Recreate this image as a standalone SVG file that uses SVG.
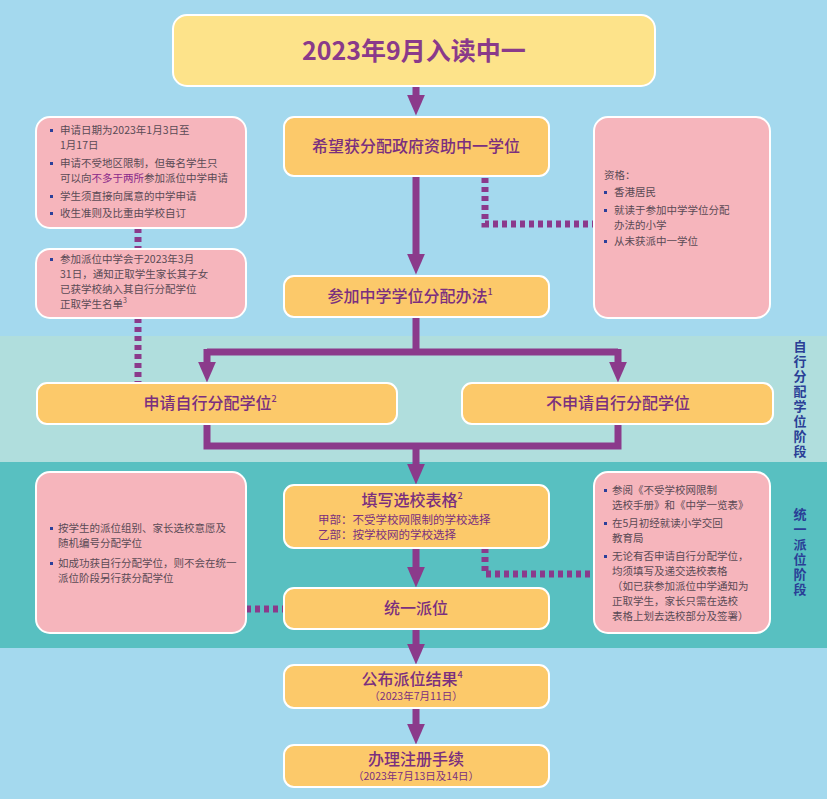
<svg xmlns="http://www.w3.org/2000/svg" width="827" height="799" viewBox="0 0 827 799">
<defs>
<style>
.t{font-family:"Noto Sans CJK SC","Liberation Sans",sans-serif;}
.o{fill:#fcc96a;stroke:#fff;stroke-width:2;}
.p{fill:#f6b5bc;stroke:#fff;stroke-width:2;}
.bt{font-size:16px;fill:#7a2f7f;font-weight:500;text-anchor:middle;}
.st{font-size:10.5px;fill:#7a2f7f;text-anchor:middle;}
.s{font-size:10.5px;fill:#5a4a55;}
.b{fill:#2b3f9a;}
.ln{stroke:#8b3a8b;stroke-width:7;fill:none;}
.dt{stroke:#8b3a8b;stroke-width:7;fill:none;stroke-dasharray:5 4;}
.side{font-size:13px;fill:#2a3f96;font-weight:bold;writing-mode:vertical-rl;letter-spacing:2px;}
</style>
<marker id="a" markerWidth="3" markerHeight="3" refX="1.5" refY="1.5" orient="auto" markerUnits="strokeWidth"><path d="M0,0.2 L3,1.5 L0,2.8 Z" fill="#8b3a8b"/></marker>
</defs>
<rect width="827" height="799" fill="#a4d9ee"/>
<rect y="336" width="827" height="126" fill="#b0dedd"/>
<rect y="462" width="827" height="186" fill="#58c0c1"/>

<g id="connectors">
<path class="dt" d="M485,178 V224 H594"/>
<path class="dt" d="M138,228 V249"/>
<path class="dt" d="M138,318 V383"/>
<path class="dt" d="M246,609 H284"/>
<path class="dt" d="M485,548 V574 H594"/>
<path class="ln" d="M416,86 V105" marker-end="url(#a)"/>
<path class="ln" d="M416,176 V264" marker-end="url(#a)"/>
<path class="ln" d="M416,317 V352"/>
<path class="ln" d="M207,352 H618"/>
<path class="ln" d="M207,349 V372" marker-end="url(#a)"/>
<path class="ln" d="M618,349 V372" marker-end="url(#a)"/>
<path class="ln" d="M207,424 V446 H618 V424"/>
<path class="ln" d="M416,446 V474" marker-end="url(#a)"/>
<path class="ln" d="M416,548 V577" marker-end="url(#a)"/>
<path class="ln" d="M416,629 V654" marker-end="url(#a)"/>
<path class="ln" d="M416,708 V734" marker-end="url(#a)"/>
</g>

<g id="title"><rect x="173" y="15" width="482" height="71" rx="14" fill="#fde38a" stroke="#fff" stroke-width="2"/>
<text class="t" x="414" y="60" font-size="25" font-weight="bold" fill="#8a3a8a" text-anchor="middle">2023年9月入读中一</text></g>

<g id="n1"><rect class="o" x="284" y="117" width="265" height="59" rx="10"/><text class="t bt" x="416" y="152">希望获分配政府资助中一学位</text></g>
<g id="n2"><rect class="o" x="284" y="276" width="265" height="41" rx="10"/><text class="t bt" x="410" y="302">参加中学学位分配办法<tspan font-size="9" dy="-7">1</tspan></text></g>
<g id="n3"><rect class="o" x="37" y="383" width="360" height="41" rx="10"/><text class="t bt" x="210" y="409">申请自行分配学位<tspan font-size="9" dy="-7">2</tspan></text></g>
<g id="n4"><rect class="o" x="462" y="383" width="311" height="41" rx="10"/><text class="t bt" x="618" y="409">不申请自行分配学位</text></g>
<g id="n5"><rect class="o" x="284" y="485" width="265" height="63" rx="10"/><text class="t bt" x="412" y="506">填写选校表格<tspan font-size="9" dy="-7">2</tspan></text>
<text class="t" x="318" y="524" font-size="11.5" fill="#7a2f7f">甲部：不受学校网限制的学校选择</text>
<text class="t" x="318" y="539" font-size="11.5" fill="#7a2f7f">乙部：按学校网的学校选择</text></g>
<g id="n6"><rect class="o" x="284" y="588" width="265" height="41" rx="10"/><text class="t bt" x="416" y="614">统一派位</text></g>
<g id="n7"><rect class="o" x="284" y="665" width="265" height="43" rx="10"/><text class="t bt" x="412" y="685">公布派位结果<tspan font-size="9" dy="-7">4</tspan></text><text class="t st" x="416" y="700">（2023年7月11日）</text></g>
<g id="n8"><rect class="o" x="284" y="745" width="265" height="42" rx="10"/><text class="t bt" x="416" y="765">办理注册手续</text><text class="t st" x="416" y="780">（2023年7月13日及14日）</text></g>

<g id="pl1"><rect class="p" x="36" y="117" width="210" height="111" rx="14"/>
<rect class="b" x="50" y="129" width="3" height="3"/><text class="t s" x="60" y="134">申请日期为2023年1月3日至</text><text class="t s" x="60" y="149">1月17日</text>
<rect class="b" x="50" y="162" width="3" height="3"/><text class="t s" x="60" y="167">申请不受地区限制，但每名学生只</text><text class="t s" x="60" y="182">可以向<tspan fill="#8a2a8a">不多于两所</tspan>参加派位中学申请</text>
<rect class="b" x="50" y="195" width="3" height="3"/><text class="t s" x="60" y="200">学生须直接向属意的中学申请</text>
<rect class="b" x="50" y="212" width="3" height="3"/><text class="t s" x="60" y="217">收生准则及比重由学校自订</text></g>
<g id="pl2"><rect class="p" x="36" y="249" width="210" height="69" rx="14"/>
<rect class="b" x="50" y="258" width="3" height="3"/><text class="t s" x="60" y="263">参加派位中学会于2023年3月</text><text class="t s" x="60" y="278">31日，通知正取学生家长其子女</text><text class="t s" x="60" y="293">已获学校纳入其自行分配学位</text><text class="t s" x="60" y="308">正取学生名单<tspan font-size="7" dy="-5">3</tspan></text></g>
<g id="pr1"><rect class="p" x="594" y="117" width="176" height="201" rx="14"/>
<text class="t s" x="604" y="179">资格：</text>
<rect class="b" x="604" y="191" width="3" height="3"/><text class="t s" x="614" y="196">香港居民</text>
<rect class="b" x="604" y="209" width="3" height="3"/><text class="t s" x="614" y="214">就读于参加中学学位分配</text><text class="t s" x="614" y="229">办法的小学</text>
<rect class="b" x="604" y="240" width="3" height="3"/><text class="t s" x="614" y="245">从未获派中一学位</text></g>
<g id="pl3"><rect class="p" x="36" y="472" width="210" height="161" rx="14"/>
<rect class="b" x="50" y="527" width="3" height="3"/><text class="t s" x="58" y="532">按学生的派位组别、家长选校意愿及</text><text class="t s" x="58" y="547">随机编号分配学位</text>
<rect class="b" x="50" y="562" width="3" height="3"/><text class="t s" x="58" y="567">如成功获自行分配学位，则不会在统一</text><text class="t s" x="58" y="582">派位阶段另行获分配学位</text></g>
<g id="pr2"><rect class="p" x="594" y="472" width="176" height="161" rx="14"/>
<rect class="b" x="604" y="489" width="3" height="3"/><text class="t s" x="612" y="494">参阅《不受学校网限制</text><text class="t s" x="612" y="509">选校手册》和《中学一览表》</text>
<rect class="b" x="604" y="522" width="3" height="3"/><text class="t s" x="612" y="527">在5月初经就读小学交回</text><text class="t s" x="612" y="542">教育局</text>
<rect class="b" x="604" y="555" width="3" height="3"/><text class="t s" x="612" y="560">无论有否申请自行分配学位，</text><text class="t s" x="612" y="575">均须填写及递交选校表格</text><text class="t s" x="612" y="590">（如已获参加派位中学通知为</text><text class="t s" x="612" y="605">正取学生，家长只需在选校</text><text class="t s" x="612" y="620">表格上划去选校部分及签署）</text></g>

<g id="stage1"><text class="t side" x="800" y="340">自行分配学位阶段</text></g>
<g id="stage2"><text class="t side" x="800" y="508">统一派位阶段</text></g>
</svg>
